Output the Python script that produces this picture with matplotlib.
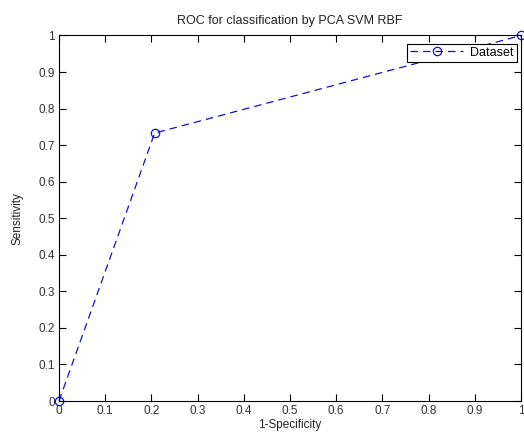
import matplotlib
matplotlib.use("Agg")
import matplotlib.pyplot as plt
import numpy as np

# ROC points (1-specificity, sensitivity)
fpr = [0.0, 0.207, 1.0]
tpr = [0.0, 0.733, 1.0]
series_label = "Dataset"
ticks = np.round(np.arange(0, 1.01, 0.1), 1)
tick_labels = ["0", "0.1", "0.2", "0.3", "0.4", "0.5", "0.6", "0.7", "0.8", "0.9", "1"]

plt.rcParams['font.family'] = ['Liberation Sans', 'DejaVu Sans']
plt.rcParams['font.size'] = 8.5

fig = plt.figure(figsize=(5.24, 4.45), dpi=100)
ax = fig.add_axes([59 / 524, 44 / 445, 462 / 524, 365.5 / 445])

ax.plot(fpr, tpr, color='#1010d0', linestyle='--', linewidth=0.9,
        marker='o', markersize=6, markerfacecolor='none',
        markeredgecolor='#1010d0', markeredgewidth=0.9, label=series_label,
        clip_on=False, dashes=(6, 4))

ax.set_xlim(0, 1)
ax.set_ylim(0, 1)
ax.set_xticks(ticks)
ax.set_xticklabels(tick_labels)
ax.set_yticks(ticks)
ax.set_yticklabels(tick_labels)
ax.tick_params(direction='in', top=True, right=True, length=5, width=0.8,
               colors='black', labelcolor='#333333', pad=3)
for s in ax.spines.values():
    s.set_linewidth(0.8)

ax.set_title("ROC for classification by PCA SVM RBF", fontsize=9, pad=8, color='#222222')
ax.set_xlabel("1-Specificity", labelpad=1, color='#222222')
ax.set_ylabel("Sensitivity", labelpad=11, color='#222222')

leg = ax.legend(loc='upper right', fancybox=False, framealpha=1, edgecolor='black',
                borderpad=0.25, handlelength=4.2, handletextpad=0.6, fontsize=9,
                bbox_to_anchor=(0.9915, 0.978), borderaxespad=0)
leg.get_frame().set_linewidth(0.8)

fig.savefig("out.png", dpi=100)
